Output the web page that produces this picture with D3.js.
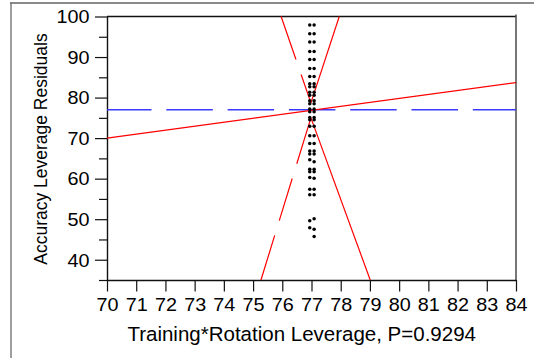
<!DOCTYPE html>
<html>
<head>
<meta charset="utf-8">
<script src="https://cdn.jsdelivr.net/npm/d3@7"></script>
<style>
  html, body { margin: 0; padding: 0; background: #fff; }
  svg { display: block; }
  text { font-family: "Liberation Sans", Arial, sans-serif; fill: #000; }
</style>
</head>
<body>
<svg id="chart" width="534" height="358"></svg>
<script>
// Leverage plot: Accuracy leverage residuals vs Training*Rotation leverage
const xTickValues = [70, 71, 72, 73, 74, 75, 76, 77, 78, 79, 80, 81, 82, 83, 84];
const yTickValues = [40, 50, 60, 70, 80, 90, 100];
const yMinorTickValues = [35, 45, 55, 65, 75, 85, 95];

// observed points (leverage x, leverage residual y)
const pointX = [
  76.94, 77.09, 76.94, 77.09, 76.94, 77.09, 76.94, 77.09, 76.94, 77.09,
  76.94, 77.09, 76.94, 77.09,
  76.94, 77.09, 76.94, 77.09,
  76.94, 77.09, 76.94, 77.09,
  76.94, 77.09, 76.94, 77.09,
  76.94, 77.09, 76.94, 77.09,
  76.94, 77.09, 76.94, 77.09,
  76.94, 77.09, 76.94, 77.09, 76.94, 77.09,
  76.94, 77.09, 76.94, 77.09,
  76.94, 77.09,
  76.94, 77.09, 76.94, 77.09,
  76.94, 77.09, 76.94, 77.09, 76.94, 77.09,
  76.94, 77.09, 76.94, 77.09,
  77.09
];
const pointY = [
  97.9, 97.9, 95.75, 95.75, 93.7, 93.7, 91.35, 91.35, 89.4, 89.4,
  87.15, 87.15, 85.2, 85.2,
  83.4, 83.4, 82.7, 82.7,
  81.3, 81.3, 80.6, 80.6,
  79.2, 79.2, 78.5, 78.5,
  77.2, 77.2, 76.5, 76.5,
  75.1, 75.1, 74.5, 74.5,
  72.9, 72.9, 70.6, 70.6, 68.7, 68.7,
  66.8, 66.8, 66.1, 66.1,
  64.65, 64.2,
  62.3, 62.3, 61.7, 61.7,
  60.3, 60.1, 57.4, 57.4, 56.0, 56.0,
  49.6, 50.1, 47.9, 47.5,
  45.7
];

// fitted line end points
const fitX = [70, 84];
const fitY = [70.0, 83.7];
// mean of the response
const meanY = 77.0;

// confidence curves: left and right branches of the upper and lower curve
const upperLeftX = [75.96, 76.98];
const upperLeftY = [100, 78.7];
const upperRightX = [76.98, 77.95];
const upperRightY = [78.7, 100];
const lowerLeftX = [76.98, 75.27];
const lowerLeftY = [75.0, 35];
const lowerRightX = [76.98, 79.01];
const lowerRightY = [75.0, 35];

const svg = d3.select("#chart");

// outer frame
svg.append("line").attr("x1", 10).attr("x2", 534).attr("y1", 3).attr("y2", 3)
  .attr("stroke", "#8a8a8a").attr("stroke-width", 2);
svg.append("line").attr("x1", 11).attr("x2", 11).attr("y1", 3).attr("y2", 358)
  .attr("stroke", "#6a6a6a").attr("stroke-width", 1.3);

const x = d3.scaleLinear().domain([70, 84]).range([107, 516]);
const y = d3.scaleLinear().domain([35, 100]).range([280, 16.5]);

// plot box: top and right edges
svg.append("line").attr("x1", x(70)).attr("x2", x(84)).attr("y1", y(100)).attr("y2", y(100))
  .attr("stroke", "#111").attr("stroke-width", 1.4);
svg.append("line").attr("x1", x(84)).attr("x2", x(84)).attr("y1", y(100) - 2).attr("y2", y(35))
  .attr("stroke", "#555").attr("stroke-width", 1.6);

// y axis: minor then major ticks
const yMinor = svg.append("g").attr("transform", `translate(${x(70)},0)`)
  .call(d3.axisLeft(y).tickValues(yMinorTickValues).tickSize(8).tickSizeOuter(0).tickFormat(""));
yMinor.select(".domain").remove();
yMinor.selectAll("line").attr("stroke", "#111").attr("stroke-width", 1.2);

const yAxis = svg.append("g").attr("transform", `translate(${x(70)},0)`)
  .call(d3.axisLeft(y).tickValues(yTickValues).tickSize(12).tickSizeOuter(0).tickFormat(d3.format("d")));
yAxis.select(".domain").attr("stroke", "#111").attr("stroke-width", 1.4);
yAxis.selectAll("line").attr("stroke", "#111").attr("stroke-width", 1.2);
yAxis.selectAll("text")
  .attr("x", 0).attr("dy", null)
  .attr("transform", "translate(-17.5,6.3) scale(1.1,1)")
  .attr("text-anchor", "end")
  .style("font-size", "18px");

// x axis
const xAxis = svg.append("g").attr("transform", `translate(0,${y(35)})`)
  .call(d3.axisBottom(x).tickValues(xTickValues).tickSize(11.5).tickSizeOuter(0).tickFormat(d3.format("d")));
xAxis.select(".domain").attr("stroke", "#111").attr("stroke-width", 1.4);
xAxis.selectAll("line").attr("stroke", "#111").attr("stroke-width", 1.2);
xAxis.selectAll("text")
  .attr("y", 0).attr("dy", null)
  .attr("transform", "translate(0,30.7) scale(1.1,1)")
  .attr("text-anchor", "middle")
  .style("font-size", "18px");

// axis titles
svg.append("text")
  .attr("transform", "translate(47,149) scale(1.1,1) rotate(-90)")
  .attr("text-anchor", "middle")
  .style("font-size", "17.5px")
  .text("Accuracy Leverage Residuals");
svg.append("text")
  .attr("x", 301.7).attr("y", 341)
  .attr("text-anchor", "middle")
  .style("font-size", "20.5px")
  .text("Training*Rotation Leverage, P=0.9294");

const line = d3.line().x(d => x(d[0])).y(d => y(d[1]));
const zip = (xs, ys) => xs.map((v, i) => [v, ys[i]]);

// horizontal mean line
svg.append("path")
  .datum([[70, meanY], [84, meanY]])
  .attr("d", line)
  .attr("fill", "none")
  .attr("stroke", "#3a3aff")
  .attr("stroke-width", 1.5)
  .attr("stroke-dasharray", "46.5,14.8")
  .attr("stroke-dashoffset", 2);

// fitted line
svg.append("path")
  .datum(zip(fitX, fitY))
  .attr("d", line)
  .attr("fill", "none")
  .attr("stroke", "#ff0000")
  .attr("stroke-width", 1.2);

// confidence curves
const curves = [
  { pts: zip(upperLeftX, upperLeftY), dash: "45.5,15.8,200" },
  { pts: zip(upperRightX, upperRightY), dash: null },
  { pts: zip(lowerLeftX, lowerLeftY), dash: "48,15.5,44,15.5,200" },
  { pts: zip(lowerRightX, lowerRightY), dash: null }
];
curves.forEach(c => {
  svg.append("path")
    .datum(c.pts)
    .attr("d", line)
    .attr("fill", "none")
    .attr("stroke", "#ff0000")
    .attr("stroke-width", 1.2)
    .attr("stroke-dasharray", c.dash);
});

// points
svg.append("g")
  .selectAll("circle")
  .data(zip(pointX, pointY))
  .join("circle")
  .attr("cx", d => x(d[0]))
  .attr("cy", d => y(d[1]))
  .attr("r", 1.75)
  .attr("fill", "#000");
</script>
</body>
</html>
